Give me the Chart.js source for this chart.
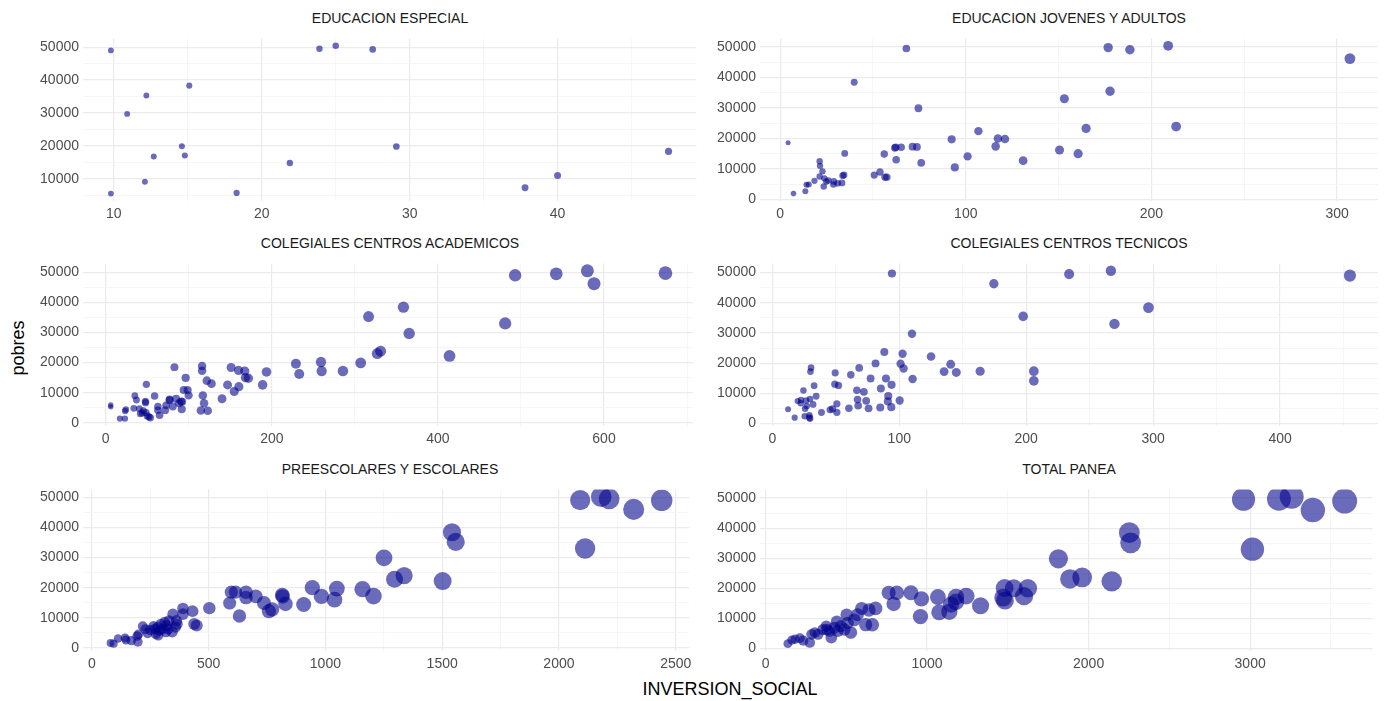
<!DOCTYPE html>
<html>
<head>
<meta charset="utf-8">
<script src="https://cdn.jsdelivr.net/npm/chart.js@4.4.0/dist/chart.umd.min.js"></script>
<style>
  body { margin: 0; background: #fff; font-family: "Liberation Sans", Arial, sans-serif; }
  #fig { position: relative; width: 1385px; height: 701px; overflow: hidden; }
  #fig canvas { position: absolute; }
  .strip { position: absolute; font-size: 14px; color: #1a1a1a; white-space: nowrap; transform: translateX(-50%); line-height: 16px; }
  .axtitle { position: absolute; font-size: 18px; color: #000; white-space: nowrap; }
</style>
</head>
<body>
<div id="fig">
  <div class="axtitle" id="ylab" style="left:18px; top:348px; transform:translate(-50%,-50%) rotate(-90deg);">pobres</div>
  <div class="axtitle" id="xlab" style="left:730px; top:689px; transform:translate(-50%,-50%);">INVERSION_SOCIAL</div>
</div>
<script>
// EDUCACION ESPECIAL
var especialX = [9.8, 23.9, 25.0, 27.5, 15.1, 12.2, 10.9, 14.6, 29.1, 12.7, 14.8, 21.9, 47.5, 12.1, 40.0, 37.8, 9.8, 18.3];
var especialY = [49000, 49500, 50400, 49300, 38300, 35300, 29700, 19900, 19800, 16800, 17100, 14800, 18300, 9100, 11000, 7300, 5500, 5700];

// EDUCACION JOVENES Y ADULTOS
var jovenesX = [4.3, 7.2, 13.6, 14.2, 15.4, 18.5, 21.3, 21.5, 22.8, 21.3, 23.8, 23.5, 24.9, 26.0, 28.9, 28.7, 31.0, 33.3, 33.7, 34.4,
  34.8, 39.9, 50.7, 53.8, 56.5, 57.5, 56.1, 62.5, 61.8, 62.3, 65.2, 68.0, 71.3, 73.7, 74.5, 76.0, 92.4, 94.1, 101.0, 106.8,
  116.1, 117.3, 121.1, 130.9, 150.5, 153.1, 160.5, 164.8, 176.7, 177.7, 188.4, 209.0, 213.3, 306.9];
var jovenesY = [18600, 1900, 2700, 4800, 4900, 6100, 12500, 11000, 9200, 7500, 6900, 4200, 5900, 6200, 5900, 4900, 5300, 5400, 7800, 8000,
  15100, 38400, 8000, 9000, 7300, 7300, 14900, 13000, 16900, 17100, 17100, 49500, 17300, 17200, 29900, 12000, 19700, 10500, 14100, 22400,
  17400, 20000, 19800, 12700, 16200, 33000, 15000, 23300, 49800, 35500, 49100, 50400, 23900, 46200];

// COLEGIALES CENTROS ACADEMICOS
var academicosX = [6, 6, 17, 23, 23.4, 24.2, 33.8, 35, 37, 40.5, 41.7, 44, 45.3, 47.7, 48, 48.9, 48.5, 50, 52, 53.7,
  58.8, 62.8, 62.8, 64.8, 71.6, 72.7, 76.7, 77, 80.7, 82.7, 84.7, 88.3, 90.7, 92, 91.5, 93.9, 96.2, 98.6, 99.8, 116,
  116, 116.9, 118.4, 114.5, 122.8, 121.7, 127.3, 140, 146.7, 151, 154.7, 160.3, 159.9, 167.4, 168.2, 171.8, 188.9, 193.6, 229, 233,
  259.2, 260, 285.6, 307, 316.5, 327, 331, 358.5, 365.4, 414, 481, 493, 542.5, 580, 588, 674];
var academicosY = [5900, 5300, 1400, 1400, 3900, 4400, 4800, 9000, 7600, 4700, 3000, 3300, 4000, 7100, 6700, 12800, 3400, 2300, 2000, 1700,
  8900, 5400, 4200, 2500, 4200, 5800, 7500, 7800, 5400, 18500, 8000, 6500, 7100, 7000, 4500, 10900, 14900, 10900, 9100, 18900,
  17300, 9100, 6500, 4100, 4000, 14000, 13000, 8000, 12600, 18400, 10400, 12000, 17400, 17200, 15000, 14800, 12600, 16900, 19600, 16200,
  20200, 17200, 17200, 19900, 35300, 23000, 23800, 38400, 29700, 22200, 33000, 49000, 49500, 50500, 46200, 49700];

// COLEGIALES CENTROS TECNICOS
var tecnicosX = [110, 88.2, 102.6, 125, 140.5, 135.3, 144.9, 163.7, 81.3, 101, 103.4, 110.5, 68.4, 61.8, 49.5, 30.5, 30, 32.9, 24.5, 49.2,
  52.1, 77.4, 89.5, 93.9, 85.5, 66.6, 72.1, 34.5, 91.3, 91, 100.3, 67.1, 73.9, 50.8, 20, 22.6, 22.4, 26.6, 29.7, 32.1,
  27.1, 25.8, 12.4, 17.6, 25.5, 29.2, 29.2, 29.7, 38.7, 45.5, 47.4, 50.8, 60.3, 67.6, 75.8, 85, 93.7, 94.2, 174.5, 197.6,
  206, 206, 233.8, 266.7, 269.5, 296.3, 455];
var tecnicosY = [29700, 23700, 23100, 22200, 19600, 17200, 16900, 17300, 19900, 19800, 18200, 14700, 18400, 16100, 16800, 18500, 17200, 12500, 10900, 13000,
  12600, 14900, 14900, 12800, 11600, 11000, 10500, 9000, 9100, 7300, 7600, 7900, 7500, 6500, 7400, 7800, 6700, 7600, 8100, 6300,
  5800, 4900, 4700, 1900, 2400, 2700, 1900, 1600, 3600, 4500, 4800, 3700, 5000, 5900, 5000, 5300, 5400, 49700, 46300, 35500,
  17300, 14100, 49500, 50600, 33000, 38400, 49000];

// PREESCOLARES Y ESCOLARES
var preescolaresX = [80, 93, 112, 142, 146, 169, 197, 194, 199, 218, 229, 239, 250, 264, 271, 274, 281, 284, 288, 295,
  302, 312, 317, 320, 326, 330, 344, 347, 358, 362, 365, 390, 390, 431, 438, 449, 503, 590, 597, 615,
  632, 660, 660, 702, 737, 758, 772, 815, 817, 829, 907, 944, 983, 1039, 1049, 1159, 1206, 1251, 1296, 1337,
  1502, 1542, 1558, 2091, 2112, 2181, 2215, 2320, 2440];
var preescolaresY = [1600, 1400, 3100, 3300, 2600, 2400, 2000, 3900, 4500, 7200, 6200, 4900, 6000, 7200, 6300, 4700, 6900, 4200, 5800, 7900,
  6300, 8500, 5300, 7400, 6300, 9000, 5300, 11200, 6900, 9000, 7900, 13100, 11200, 12200, 7900, 7400, 13200, 14900, 18500, 18500,
  10600, 18500, 16700, 17100, 14900, 12200, 12800, 17600, 17100, 14600, 14400, 20000, 17100, 16000, 19700, 19500, 17200, 29900, 22800, 24000,
  22200, 38400, 35200, 49100, 33000, 50200, 49500, 46000, 49000];

// TOTAL PANEA
var totalX = [138, 163, 183, 213, 234, 274, 285, 305, 325, 356, 376, 380, 396, 407, 427, 441, 447, 467, 488, 502,
  508, 528, 549, 569, 595, 620, 640, 661, 681, 762, 813, 793, 900, 965, 959, 1067, 1075, 1138, 1148, 1179,
  1179, 1242, 1331, 1471, 1480, 1482, 1537, 1600, 1624, 1813, 1884, 1960, 2143, 2252, 2260, 2959, 3014, 3178, 3257, 3388,
  3585];
var totalY = [1600, 2800, 3100, 3400, 2600, 2000, 4700, 5300, 4700, 6300, 7400, 6300, 5800, 3600, 6900, 9000, 5800, 7400, 6300, 11200,
  8500, 5300, 9500, 11200, 13300, 7900, 12800, 7900, 13300, 18500, 18500, 14800, 18500, 16500, 10600, 17100, 12000, 12200, 14600, 17100,
  15500, 17400, 14200, 16900, 20100, 15900, 20000, 17400, 20000, 29800, 23100, 23600, 22300, 38500, 35100, 49600, 33000, 49700, 50400, 46000,
  49000];

var PANELS = [
  { title: 'EDUCACION ESPECIAL', xs: especialX, ys: especialY, step: 10, col: 0, row: 0 },
  { title: 'EDUCACION JOVENES Y ADULTOS', xs: jovenesX, ys: jovenesY, step: 100, col: 1, row: 0 },
  { title: 'COLEGIALES CENTROS ACADEMICOS', xs: academicosX, ys: academicosY, step: 200, col: 0, row: 1 },
  { title: 'COLEGIALES CENTROS TECNICOS', xs: tecnicosX, ys: tecnicosY, step: 100, col: 1, row: 1 },
  { title: 'PREESCOLARES Y ESCOLARES', xs: preescolaresX, ys: preescolaresY, step: 500, col: 0, row: 2 },
  { title: 'TOTAL PANEA', xs: totalX, ys: totalY, step: 1000, col: 1, row: 2 }
];
var Y_STEP = 10000;

var COLS = [
  { left: 0, width: 700, plotLeft: 83, plotRight: 697 },
  { left: 700, width: 685, plotLeft: 760, plotRight: 1378 }
];
var ROWS = [
  { top: 32, bottom: 201 },
  { top: 257, bottom: 426 },
  { top: 483, bottom: 651 }
];
var PAD_TOP = 6;
var XAXIS_H = 22;

Chart.defaults.font.family = '"Liberation Sans", Arial, sans-serif';

// size scale shared by all panels (like ggplot's size legend)
var allX = [];
PANELS.forEach(function(p) { allX = allX.concat(p.xs); });
var sizeMin = Math.min.apply(null, allX);
var sizeMax = Math.max.apply(null, allX);
function radiusFor(v) {
  return 2.5 + 10 * Math.sqrt((v - sizeMin) / (sizeMax - sizeMin));
}

function expand(arr) {
  var lo = Math.min.apply(null, arr), hi = Math.max.apply(null, arr);
  var pad = (hi - lo) * 0.05;
  return [lo - pad, hi + pad];
}

function isMajor(v, major) {
  var q = v / major;
  return Math.abs(q - Math.round(q)) < 1e-6;
}

// major + minor breaks (minor halfway), like ggplot
function breaksFor(major) {
  return function(s) {
    var half = major / 2, t = [];
    for (var k = Math.ceil(s.min / half); k * half <= s.max; k++) t.push({ value: k * half });
    s.ticks = t;
  };
}

function axis(lim, major, extra) {
  var o = {
    type: 'linear',
    min: lim[0], max: lim[1],
    border: { display: false },
    grid: {
      drawTicks: false,
      color: function(c) { return isMajor(c.tick.value, major) ? '#ebebeb' : '#f4f4f4'; },
      lineWidth: function(c) { return isMajor(c.tick.value, major) ? 1.2 : 0.8; }
    },
    afterBuildTicks: breaksFor(major),
    ticks: {
      autoSkip: false,
      maxRotation: 0,
      color: '#4d4d4d',
      font: { size: 14 },
      callback: function(v) { return isMajor(v, major) ? String(Math.round(v)) : ''; }
    }
  };
  for (var k in extra) o[k] = extra[k];
  return o;
}

var fig = document.getElementById('fig');

PANELS.forEach(function(p) {
  var col = COLS[p.col], row = ROWS[p.row];
  var plotH = row.bottom - row.top;

  var cv = document.createElement('canvas');
  var w = col.width, h = plotH + PAD_TOP + XAXIS_H;
  cv.width = w; cv.height = h;
  cv.style.left = col.left + 'px';
  cv.style.top = (row.top - PAD_TOP) + 'px';
  cv.style.width = w + 'px';
  cv.style.height = h + 'px';
  fig.appendChild(cv);

  var strip = document.createElement('div');
  strip.className = 'strip';
  strip.textContent = p.title;
  strip.style.left = ((col.plotLeft + col.plotRight) / 2) + 'px';
  strip.style.top = (row.top - 22) + 'px';
  fig.appendChild(strip);

  var pts = p.xs.map(function(x, i) { return { x: x, y: p.ys[i] }; });

  var xAxis = axis(expand(p.xs), p.step, { afterFit: function(s) { s.height = XAXIS_H; } });
  xAxis.ticks.padding = 5;
  var yAxis = axis(expand(p.ys), Y_STEP, { afterFit: function(s) { s.width = col.plotLeft - col.left; } });
  yAxis.ticks.padding = 4;

  new Chart(cv, {
    type: 'scatter',
    data: {
      datasets: [{
        data: pts,
        backgroundColor: 'rgba(0, 0, 139, 0.58)',
        borderWidth: 0,
        pointRadius: function(ctx) { return ctx.raw ? radiusFor(ctx.raw.x) : 3; },
        pointHoverRadius: function(ctx) { return ctx.raw ? radiusFor(ctx.raw.x) : 3; }
      }]
    },
    options: {
      responsive: false,
      animation: false,
      events: [],
      layout: { padding: { top: PAD_TOP, right: col.left + col.width - col.plotRight, left: 0, bottom: 0 } },
      plugins: { legend: { display: false }, tooltip: { enabled: false }, title: { display: false } },
      scales: { x: xAxis, y: yAxis }
    }
  });
});
</script>
</body>
</html>
